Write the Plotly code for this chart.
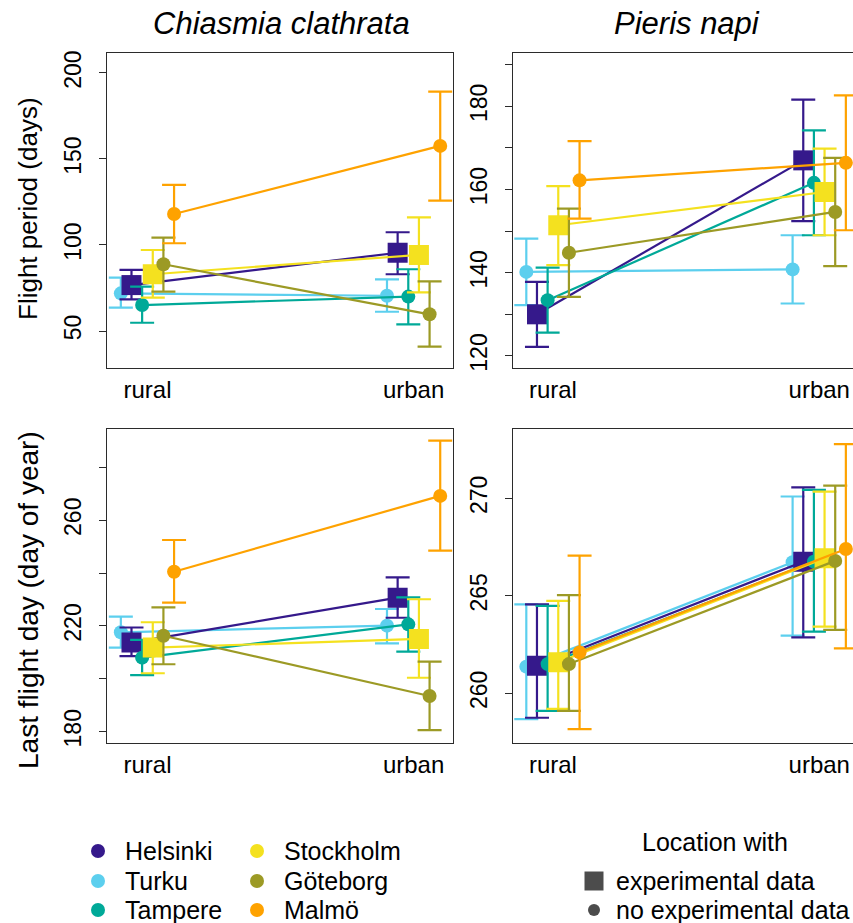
import plotly.graph_objects as go

# ---------------- data ----------------
cities = ["Helsinki", "Turku", "Tampere", "Stockholm", "Göteborg", "Malmö"]
experimental = [True, False, False, True, False, False]
habitats = ["rural", "urban"]
species = ["Chiasmia clathrata", "Pieris napi"]

# Chiasmia clathrata – flight period (days)
cc_fp_rural = [76.7, 71.9, 65.1, 83.0, 88.8, 118.0]
cc_fp_rural_lo = [68.4, 63.6, 54.8, 69.4, 72.9, 101.0]
cc_fp_rural_hi = [85.5, 81.0, 75.8, 97.1, 104.3, 134.9]
cc_fp_urban = [95.5, 70.5, 70.0, 94.2, 59.7, 157.6]
cc_fp_urban_lo = [83.0, 61.2, 53.9, 72.5, 40.9, 125.8]
cc_fp_urban_hi = [107.4, 80.0, 85.9, 116.1, 78.9, 189.1]

# Pieris napi – flight period (days)
pn_fp_rural = [130.0, 140.2, 133.4, 151.4, 144.8, 162.2]
pn_fp_rural_lo = [122.2, 132.2, 125.6, 141.8, 134.2, 153.0]
pn_fp_rural_hi = [137.8, 148.2, 141.2, 160.8, 155.4, 171.6]
pn_fp_urban = [167.0, 140.8, 161.6, 159.4, 154.6, 166.4]
pn_fp_urban_lo = [152.4, 132.6, 149.0, 149.0, 141.6, 150.2]
pn_fp_urban_hi = [181.6, 149.0, 174.2, 169.8, 167.6, 182.6]

# Chiasmia clathrata – last flight day (day of year)
cc_lfd_rural = [213.7, 217.6, 208.0, 211.8, 216.3, 240.5]
cc_lfd_rural_lo = [208.6, 211.8, 201.4, 202.1, 205.5, 228.8]
cc_lfd_rural_hi = [219.4, 223.5, 214.7, 221.4, 227.0, 252.5]
cc_lfd_urban = [230.7, 220.1, 220.6, 215.1, 193.5, 269.2]
cc_lfd_urban_lo = [223.1, 213.4, 210.3, 200.4, 180.6, 248.5]
cc_lfd_urban_hi = [238.4, 226.4, 230.8, 230.1, 206.5, 290.1]

# Pieris napi – last flight day (day of year)
pn_lfd_rural = [261.42, 261.37, 261.50, 261.59, 261.50, 262.10]
pn_lfd_rural_lo = [258.75, 258.68, 259.10, 259.20, 259.10, 258.17]
pn_lfd_rural_hi = [264.56, 264.56, 264.48, 264.74, 265.04, 267.06]
pn_lfd_urban = [266.75, 266.72, 266.75, 266.92, 266.79, 267.40]
pn_lfd_urban_lo = [262.87, 262.96, 263.16, 263.42, 263.25, 262.31]
pn_lfd_urban_hi = [270.56, 270.09, 270.43, 270.34, 270.65, 272.77]

# tick values / labels
cc_fp_ticks = [50, 100, 150, 200]
cc_fp_ticklabels = ["50", "100", "150", "200"]
pn_fp_ticks = [120, 130, 140, 150, 160, 170, 180, 190]
pn_fp_ticklabels = ["120", "", "140", "", "160", "", "180", ""]
cc_lfd_ticks = [180, 200, 220, 240, 260, 280]
cc_lfd_ticklabels = ["180", "", "220", "", "260", ""]
pn_lfd_ticks = [260, 265, 270]
pn_lfd_ticklabels = ["260", "265", "270"]

ylab_fp = "Flight period (days)"
ylab_lfd = "Last flight day (day of year)"
legend_title = "Location with"
legend_shape_labels = ["experimental data", "no experimental data"]

# ---------------- style ----------------
colors = {"Helsinki": "#35198B", "Turku": "#5CCFEE", "Tampere": "#00A998",
          "Stockholm": "#F4E11F", "Göteborg": "#9C9A25", "Malmö": "#FEA200"}
dodge = {"Turku": -0.10, "Helsinki": -0.06, "Tampere": -0.02,
         "Stockholm": 0.02, "Göteborg": 0.06, "Malmö": 0.10}
draw_order = ["Turku", "Helsinki", "Tampere", "Stockholm", "Göteborg", "Malmö"]
FONT = "Liberation Sans, Arial, Helvetica, sans-serif"
LINEC = "#2b2b2b"
W, H = 853, 923


def px(x):
    return x / W


def py(y):
    return 1 - y / H


fig = go.Figure()

panels = [
    ("x", "y", cc_fp_rural, cc_fp_rural_lo, cc_fp_rural_hi, cc_fp_urban, cc_fp_urban_lo, cc_fp_urban_hi),
    ("x2", "y2", pn_fp_rural, pn_fp_rural_lo, pn_fp_rural_hi, pn_fp_urban, pn_fp_urban_lo, pn_fp_urban_hi),
    ("x3", "y3", cc_lfd_rural, cc_lfd_rural_lo, cc_lfd_rural_hi, cc_lfd_urban, cc_lfd_urban_lo, cc_lfd_urban_hi),
    ("x4", "y4", pn_lfd_rural, pn_lfd_rural_lo, pn_lfd_rural_hi, pn_lfd_urban, pn_lfd_urban_lo, pn_lfd_urban_hi),
]

for xa, ya, r, rlo, rhi, u, ulo, uhi in panels:
    for city in draw_order:
        i = cities.index(city)
        ys = [r[i], u[i]]
        hi = [rhi[i] - r[i], uhi[i] - u[i]]
        lo = [r[i] - rlo[i], u[i] - ulo[i]]
        c = colors[city]
        fig.add_trace(go.Scatter(
            x=[1 + dodge[city], 2 + dodge[city]], y=ys,
            xaxis=xa, yaxis=ya, mode="lines+markers",
            line=dict(color=c, width=2.2),
            marker=dict(color=c, size=20 if experimental[i] else 14,
                        symbol="square" if experimental[i] else "circle",
                        line=dict(width=0)),
            error_y=dict(type="data", symmetric=False, array=hi, arrayminus=lo,
                         color=c, thickness=2.2, width=12),
            showlegend=False, hoverinfo="skip", cliponaxis=True,
        ))

# legend symbols on an overlay pixel axis
leg_x = [98, 98, 98, 257, 257, 257]
leg_y = [851, 881, 910, 851, 881, 910]
fig.add_trace(go.Scatter(
    x=leg_x, y=leg_y, xaxis="x5", yaxis="y5", mode="markers",
    marker=dict(color=[colors[c] for c in cities], size=14, line=dict(width=0)),
    showlegend=False, hoverinfo="skip", cliponaxis=False))
fig.add_trace(go.Scatter(
    x=[594, 594], y=[881, 910], xaxis="x5", yaxis="y5", mode="markers",
    marker=dict(color="black", size=[19, 12], symbol=["square", "circle"], line=dict(width=0)),
    showlegend=False, hoverinfo="skip", cliponaxis=False))

annotations = []
for i, city in enumerate(cities):
    annotations.append(dict(x=px(leg_x[i] + 25), y=py(leg_y[i]), xref="paper", yref="paper",
                            text=city, showarrow=False, xanchor="left", yanchor="middle",
                            font=dict(size=25, family=FONT, color="black")))
annotations.append(dict(x=px(715), y=py(842), xref="paper", yref="paper", text=legend_title,
                        showarrow=False, xanchor="center", yanchor="middle",
                        font=dict(size=25, family=FONT, color="black")))
for t, yy in zip(legend_shape_labels, [881, 910]):
    annotations.append(dict(x=px(614), y=py(yy), xref="paper", yref="paper", text=t,
                            showarrow=False, xanchor="left", yanchor="middle",
                            font=dict(size=25, family=FONT, color="black")))
# panel titles
annotations.append(dict(x=px(281), y=py(24), xref="paper", yref="paper",
                        text="<i>" + species[0] + "</i>", showarrow=False,
                        xanchor="center", yanchor="middle",
                        font=dict(size=31, family=FONT, color="black")))
annotations.append(dict(x=px(687), y=py(24), xref="paper", yref="paper",
                        text="<i>" + species[1] + "</i>", showarrow=False,
                        xanchor="center", yanchor="middle",
                        font=dict(size=31, family=FONT, color="black")))
# y-axis titles
annotations.append(dict(x=px(28), y=py(209), xref="paper", yref="paper", text=ylab_fp,
                        showarrow=False, textangle=-90, xanchor="center", yanchor="middle",
                        font=dict(size=26, family=FONT, color="black")))
annotations.append(dict(x=px(28), y=py(600), xref="paper", yref="paper", text=ylab_lfd,
                        showarrow=False, textangle=-90, xanchor="center", yanchor="middle",
                        font=dict(size=28, family=FONT, color="black")))


def xaxis_cfg(domain, rng, yname):
    return dict(domain=domain, range=rng, anchor=yname, tickvals=[1, 2], ticktext=habitats,
                showline=True, mirror=True, linecolor=LINEC, linewidth=1.2,
                ticks="", showgrid=False, zeroline=False, ticklabelstandoff=0,
                tickfont=dict(size=24, family=FONT, color="black"), fixedrange=True)


def yaxis_cfg(domain, rng, xname, tv, tt, mirror):
    return dict(domain=domain, range=rng, anchor=xname, tickvals=tv, ticktext=tt,
                showline=True, mirror=mirror, linecolor=LINEC, linewidth=1.2,
                ticks="outside", ticklen=7, tickwidth=1.2, tickcolor=LINEC,
                tickangle=-90, showgrid=False, zeroline=False, ticklabelstandoff=9,
                tickfont=dict(size=23, family=FONT, color="black"), fixedrange=True)


LX = [px(107), px(453)]
RX = [px(513), 1.0]
TY = [py(368), py(53)]
BY = [py(743.3), py(429)]

fig.update_layout(
    width=W, height=H, margin=dict(l=0, r=0, t=0, b=0, autoexpand=False),
    paper_bgcolor="white", plot_bgcolor="rgba(0,0,0,0)", showlegend=False,
    xaxis=xaxis_cfg(LX, [0.848, 2.148], "y"),
    yaxis=yaxis_cfg(TY, [28.5, 211.6], "x", cc_fp_ticks, cc_fp_ticklabels, True),
    xaxis2=xaxis_cfg(RX, [0.85, 2.1268], "y2"),
    yaxis2=yaxis_cfg(TY, [117.1, 192.8], "x2", pn_fp_ticks, pn_fp_ticklabels, False),
    xaxis3=xaxis_cfg(LX, [0.848, 2.148], "y3"),
    yaxis3=yaxis_cfg(BY, [175.6, 294.5], "x3", cc_lfd_ticks, cc_lfd_ticklabels, True),
    xaxis4=xaxis_cfg(RX, [0.85, 2.1268], "y4"),
    yaxis4=yaxis_cfg(BY, [257.44, 273.55], "x4", pn_lfd_ticks, pn_lfd_ticklabels, False),
    xaxis5=dict(domain=[0, 1], range=[0, W], anchor="y5", visible=False, fixedrange=True),
    yaxis5=dict(domain=[0, 1], range=[H, 0], anchor="x5", visible=False, fixedrange=True),
    annotations=annotations,
)

fig.write_html("out.html", config={"displayModeBar": False},
               post_script="document.body.style.margin='0px';document.body.style.overflow='hidden';")
